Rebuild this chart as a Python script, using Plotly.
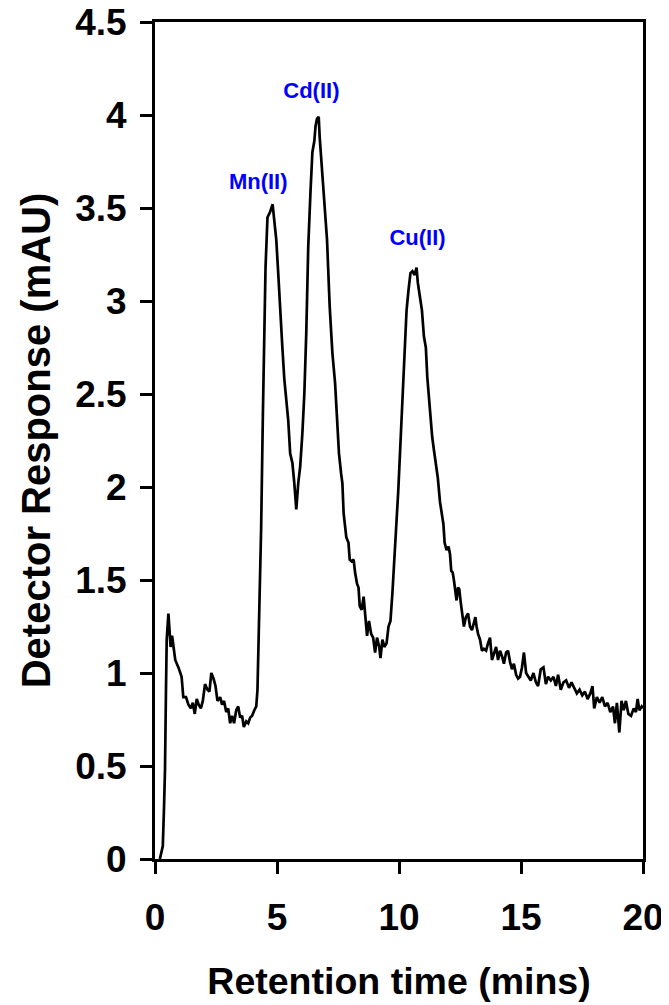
import plotly.graph_objects as go

time_min = [0.20,0.32,0.37,0.41,0.45,0.48,0.55,0.59,0.64,0.70,0.75,0.83,0.96,1.09,1.16,1.27,1.37,1.47,1.55,1.63,
            1.71,1.79,1.88,1.96,2.05,2.15,2.23,2.31,2.40,2.48,2.56,2.67,2.75,2.83,2.92,3.00,3.08,3.16,3.24,3.33,
            3.41,3.49,3.57,3.64,3.74,3.82,3.90,3.98,4.07,4.15,4.20,4.24,4.28,4.31,4.35,4.42,4.48,4.53,4.61,4.72,
            4.82,4.89,4.97,5.05,5.13,5.22,5.30,5.38,5.46,5.54,5.63,5.71,5.79,5.87,5.95,6.04,6.12,6.20,6.28,6.37,
            6.45,6.53,6.58,6.64,6.71,6.75,6.83,6.94,7.05,7.16,7.27,7.38,7.46,7.54,7.63,7.68,7.73,7.79,7.84,7.93,
            7.98,8.06,8.14,8.20,8.28,8.34,8.39,8.47,8.55,8.61,8.69,8.77,8.86,8.94,9.02,9.10,9.19,9.24,9.32,9.40,
            9.49,9.57,9.65,9.73,9.82,9.90,9.97,10.06,10.17,10.25,10.31,10.39,10.47,10.55,10.64,10.72,10.77,10.86,10.94,11.02,
            11.10,11.16,11.23,11.29,11.36,11.43,11.50,11.59,11.68,11.76,11.82,11.87,11.95,12.03,12.09,12.14,12.20,12.25,12.31,12.36,
            12.42,12.47,12.53,12.61,12.66,12.74,12.83,12.91,12.99,13.07,13.13,13.18,13.24,13.32,13.40,13.48,13.57,13.65,13.73,13.81,
            13.89,13.98,14.06,14.14,14.22,14.30,14.39,14.47,14.55,14.63,14.71,14.80,14.88,14.96,15.04,15.12,15.21,15.29,15.40,15.51,
            15.61,15.70,15.81,15.92,16.02,16.11,16.22,16.33,16.43,16.52,16.63,16.74,16.85,16.97,17.07,17.18,17.29,17.40,17.51,17.62,
            17.73,17.84,17.93,18.00,18.11,18.22,18.33,18.44,18.55,18.66,18.77,18.85,18.93,19.03,19.12,19.21,19.30,19.40,19.51,19.62,
            19.71,19.78,19.85,19.95,20.00]

response_mau = [0.00,0.07,0.28,0.48,0.91,1.18,1.32,1.21,1.14,1.20,1.14,1.07,1.03,0.98,0.87,0.87,0.83,0.81,0.84,0.78,
                0.86,0.83,0.81,0.85,0.94,0.91,0.90,1.00,0.97,0.93,0.85,0.87,0.83,0.85,0.79,0.81,0.73,0.77,0.73,0.80,
                0.82,0.76,0.77,0.71,0.74,0.73,0.76,0.77,0.80,0.82,0.91,1.12,1.34,1.45,1.78,2.38,2.83,3.18,3.45,3.48,
                3.52,3.41,3.33,3.15,2.94,2.75,2.58,2.47,2.36,2.18,2.13,2.02,1.88,2.02,2.11,2.29,2.50,2.83,3.29,3.58,
                3.80,3.86,3.94,3.98,3.99,3.88,3.72,3.51,3.33,2.97,2.72,2.56,2.40,2.18,2.07,2.02,1.86,1.79,1.73,1.70,
                1.61,1.60,1.61,1.54,1.48,1.46,1.36,1.34,1.41,1.32,1.20,1.28,1.21,1.19,1.11,1.19,1.14,1.08,1.18,1.14,
                1.16,1.25,1.28,1.43,1.61,1.82,1.98,2.24,2.56,2.81,2.95,3.06,3.15,3.16,3.14,3.18,3.10,3.02,2.95,2.81,
                2.75,2.59,2.47,2.38,2.27,2.20,2.14,2.05,1.92,1.86,1.80,1.70,1.66,1.68,1.64,1.55,1.54,1.50,1.45,1.39,
                1.46,1.45,1.38,1.28,1.25,1.30,1.32,1.25,1.23,1.27,1.30,1.25,1.21,1.18,1.12,1.13,1.12,1.16,1.19,1.07,
                1.11,1.14,1.07,1.12,1.09,1.05,1.11,1.12,1.06,1.02,1.05,0.99,0.97,0.98,1.03,1.11,1.00,0.98,0.96,1.00,
                0.95,0.93,1.02,1.03,0.94,0.98,0.96,0.98,0.93,0.99,0.91,0.95,0.96,0.92,0.95,0.92,0.89,0.91,0.88,0.90,
                0.86,0.89,0.93,0.81,0.87,0.84,0.87,0.82,0.84,0.79,0.82,0.73,0.84,0.68,0.85,0.80,0.85,0.78,0.77,0.81,
                0.79,0.86,0.80,0.82,0.81]

peak_labels = ["Mn(II)", "Cd(II)", "Cu(II)"]
peak_label_x = [4.23, 6.41, 10.76]
peak_label_y = [3.63, 4.12, 3.33]

y_ticks = [0, 0.5, 1, 1.5, 2, 2.5, 3, 3.5, 4, 4.5]
y_tick_text = ["0", "0.5", "1", "1.5", "2", "2.5", "3", "3.5", "4", "4.5"]
x_ticks = [0, 5, 10, 15, 20]
x_tick_text = ["0", "5", "10", "15", "20"]

FONT = "Arial, Liberation Sans, sans-serif"

fig = go.Figure()
fig.add_trace(go.Scatter(x=time_min, y=response_mau, mode="lines",
                         line=dict(color="black", width=2.7), showlegend=False,
                         hoverinfo="x+y"))

fig.add_trace(go.Scatter(x=peak_label_x, y=peak_label_y, mode="text", text=peak_labels,
                         textfont=dict(family=FONT, size=22, color="#0000FF", weight="bold"),
                         showlegend=False, hoverinfo="skip"))

axis_common = dict(showline=True, linecolor="black", linewidth=3, mirror=True,
                   ticks="outside", ticklen=12, tickwidth=3, tickcolor="black",
                   showgrid=False, zeroline=False, ticklabeloverflow="allow",
                   tickfont=dict(family=FONT, size=37, color="black", weight="bold"))

fig.update_xaxes(range=[0, 20], tickvals=x_ticks, ticktext=x_tick_text,
                 title=dict(text="Retention time (mins)", standoff=31,
                            font=dict(family=FONT, size=37.5, color="black", weight="bold")),
                 ticklabelstandoff=12,
                 **axis_common)
fig.update_yaxes(range=[0, 4.5], tickvals=y_ticks, ticktext=y_tick_text,
                 title=dict(text="Detector Response (mAU)", standoff=13,
                            font=dict(family=FONT, size=40, color="black", weight="bold")),
                 ticklabelstandoff=6,
                 **axis_common)

fig.update_layout(width=661, height=997, margin=dict(l=147, r=26, t=14, b=146, autoexpand=False),
                  paper_bgcolor="white", plot_bgcolor="white")

fig.write_html("out.html")
